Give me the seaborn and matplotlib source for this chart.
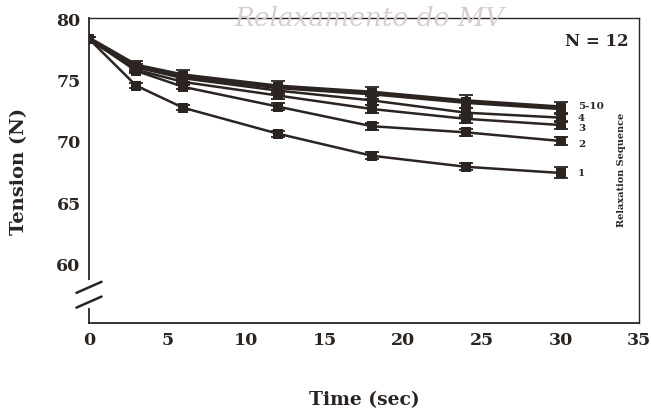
import numpy as np
import pandas as pd
import matplotlib
matplotlib.use("Agg")
import matplotlib.pyplot as plt
import seaborn as sns

# time points (sec)
time_s = [0, 3, 6, 12, 18, 24, 30]

# mean tension (N) for each relaxation in the sequence
seq_1 = [78.3, 74.5, 72.7, 70.6, 68.8, 67.9, 67.4]
seq_2 = [78.3, 75.7, 74.4, 72.8, 71.2, 70.7, 70.0]
seq_3 = [78.3, 75.8, 74.8, 73.7, 72.6, 71.8, 71.3]
seq_4 = [78.3, 76.0, 75.1, 74.1, 73.3, 72.3, 71.9]
seq_5_10 = [78.3, 76.1, 75.3, 74.4, 73.9, 73.2, 72.7]

# standard error bars
err_1 = [0.15, 0.2, 0.2, 0.25, 0.3, 0.3, 0.45]
err_2 = [0.15, 0.2, 0.2, 0.25, 0.3, 0.3, 0.3]
err_3 = [0.15, 0.2, 0.25, 0.3, 0.3, 0.3, 0.3]
err_4 = [0.15, 0.25, 0.3, 0.35, 0.35, 0.35, 0.35]
err_5_10 = [0.15, 0.4, 0.5, 0.5, 0.5, 0.5, 0.5]

seq_names = ["1", "2", "3", "4", "5-10"]
seq_values = [seq_1, seq_2, seq_3, seq_4, seq_5_10]
seq_errors = [err_1, err_2, err_3, err_4, err_5_10]

ink = "#2b2420"

df = pd.DataFrame({
    "time": time_s * len(seq_names),
    "tension": sum(seq_values, []),
    "err": sum(seq_errors, []),
    "seq": [name for name in seq_names for _ in time_s],
})

sns.set_theme(style="white")
plt.rcParams["font.family"] = ["DejaVu Serif"]
plt.rcParams["font.weight"] = "bold"

fig = plt.figure(figsize=(6.51, 4.14), dpi=100)
ax = fig.add_axes([0.1367, 0.2174, 0.845, 0.7367])

widths = {"1": 1.8, "2": 1.8, "3": 1.8, "4": 1.8, "5-10": 3.6}
sns.lineplot(
    data=df, x="time", y="tension", hue="seq", style="seq",
    palette=[ink] * len(seq_names), markers=["s"] * len(seq_names),
    dashes=False, markersize=7, markeredgewidth=0, legend=False, ax=ax,
    sort=False, errorbar=None,
)
for line, name in zip(ax.get_lines(), seq_names):
    line.set_linewidth(widths[name])

for name, sub in df.groupby("seq"):
    ax.errorbar(sub["time"], sub["tension"], yerr=sub["err"], fmt="none",
                ecolor=ink, elinewidth=2.5, capsize=5, capthick=1.3)

# series labels at the right end
label_y = {"1": 67.4, "2": 69.8, "3": 71.1, "4": 71.9, "5-10": 72.9}
for name in seq_names:
    ax.text(31.1, label_y[name], name, fontsize=7.5, fontweight="bold",
            color=ink, va="center", ha="left")

ax.text(33.9, 67.7, "Relaxation Sequence", rotation=90, fontsize=7,
        fontweight="bold", color=ink, ha="center", va="center")
ax.text(32.3, 78.2, "N = 12", fontsize=12, fontweight="bold", color=ink,
        ha="center", va="center")

ax.set_xlim(0, 35)
ax.set_ylim(55.2, 80)
ax.set_xticks([0, 5, 10, 15, 20, 25, 30, 35])
ax.set_yticks([60, 65, 70, 75, 80])
ax.tick_params(direction="in", length=5, width=1, colors=ink,
               labelsize=12.5, pad=6)
for lab in ax.get_xticklabels() + ax.get_yticklabels():
    lab.set_fontweight("bold")
ax.set_xlabel("Time (sec)", fontsize=13.5, fontweight="bold", color=ink,
              labelpad=30)
ax.set_ylabel("Tension (N)", fontsize=14, fontweight="bold", color=ink,
              labelpad=20)
for side in ["left", "bottom", "top", "right"]:
    ax.spines[side].set_color(ink)
    ax.spines[side].set_linewidth(1.3)
ax.spines["top"].set_linewidth(1.0)
ax.spines["right"].set_linewidth(1.0)

# axis break marks on the y axis
ax.plot([0, 0], [56.6, 58.5], color="white", lw=3, clip_on=False, zorder=5)
for yb in [58.1, 56.9]:
    ax.plot([-0.8, 0.8], [yb - 0.45, yb + 0.45], color=ink, lw=1.8,
            clip_on=False, zorder=6)

# faint handwritten note on the scan
fig.text(0.36, 0.955, "Relaxamento do MV", fontsize=19, style="italic",
         fontweight="normal", color="#d8cdcd", ha="left", va="center",
         family=["DejaVu Serif"])

fig.savefig("out.png", dpi=100)
